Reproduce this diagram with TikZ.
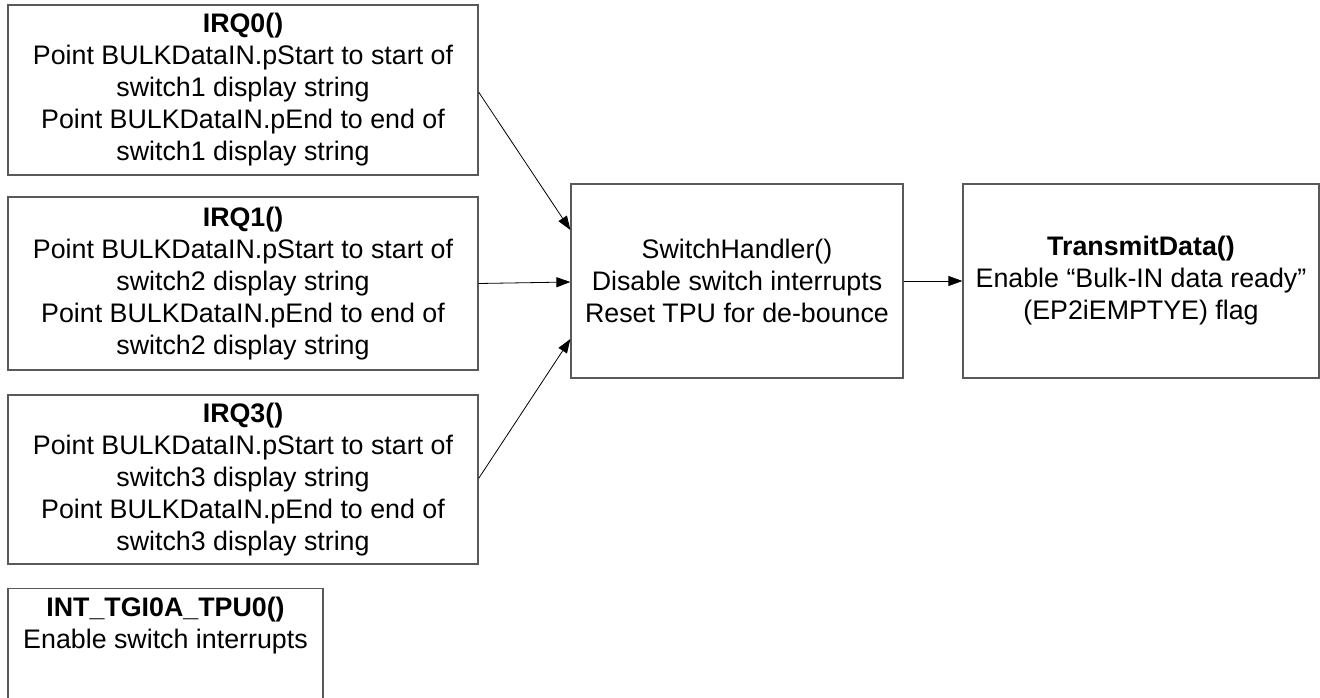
\documentclass[tikz,border=0pt]{standalone}
\usepackage{fontspec}
\setmainfont{Liberation Sans}
\usetikzlibrary{arrows.meta,calc}
\tikzset{
  box/.style={draw=black!65, line width=1.2pt, inner sep=0pt, align=center,
    font=\fontsize{26.8pt}{32pt}\selectfont},
  txt/.style={inner sep=0pt, align=center, font=\fontsize{26.8pt}{32pt}\selectfont},
  conn/.style={draw=black, line width=0.8pt, -{Triangle[length=14pt,width=10pt]}}
}
\begin{document}
\begin{tikzpicture}[x=1pt,y=-1pt]
\useasboundingbox (0,0) rectangle (1320,698);
\node[box, minimum width=470pt, minimum height=170pt] (irq0) at (243,90)
  {\textbf{IRQ0()}\\Point BULKDataIN.pStart to start of\\switch1 display string\\Point BULKDataIN.pEnd to end of\\switch1 display string};
\node[box, minimum width=470pt, minimum height=173pt] (irq1) at (243,283.5)
  {\textbf{IRQ1()}\\Point BULKDataIN.pStart to start of\\switch2 display string\\Point BULKDataIN.pEnd to end of\\switch2 display string};
\node[box, minimum width=470pt, minimum height=169pt] (irq3) at (243,479.5)
  {\textbf{IRQ3()}\\Point BULKDataIN.pStart to start of\\switch3 display string\\Point BULKDataIN.pEnd to end of\\switch3 display string};
\node[box, minimum width=315pt, minimum height=130pt, anchor=north] (int) at (165.5,588) {};
\node[txt, anchor=north] (intt) at (165.5,597)
  {\textbf{INT\_TGI0A\_TPU0()}\\Enable switch interrupts};
\node[box, minimum width=332pt, minimum height=194pt] (sw) at (737,281)
  {SwitchHandler()\\Disable switch interrupts\\Reset TPU for de-bounce};
\node[box, minimum width=356pt, minimum height=194pt] (tx) at (1141,281)
  {\textbf{TransmitData()}\\Enable “Bulk-IN data ready”\\(EP2iEMPTYE) flag};
\draw[conn] ($(irq0.east)+(0,2)$) -- ($(sw.west)+(0,-51)$);
\draw[conn] (irq1.east) -- ($(sw.west)+(0,1)$);
\draw[conn] ($(irq3.east)+(0,-1)$) -- ($(sw.west)+(0,58)$);
\draw[conn] (sw.east) -- (tx.west);
\end{tikzpicture}
\end{document}
